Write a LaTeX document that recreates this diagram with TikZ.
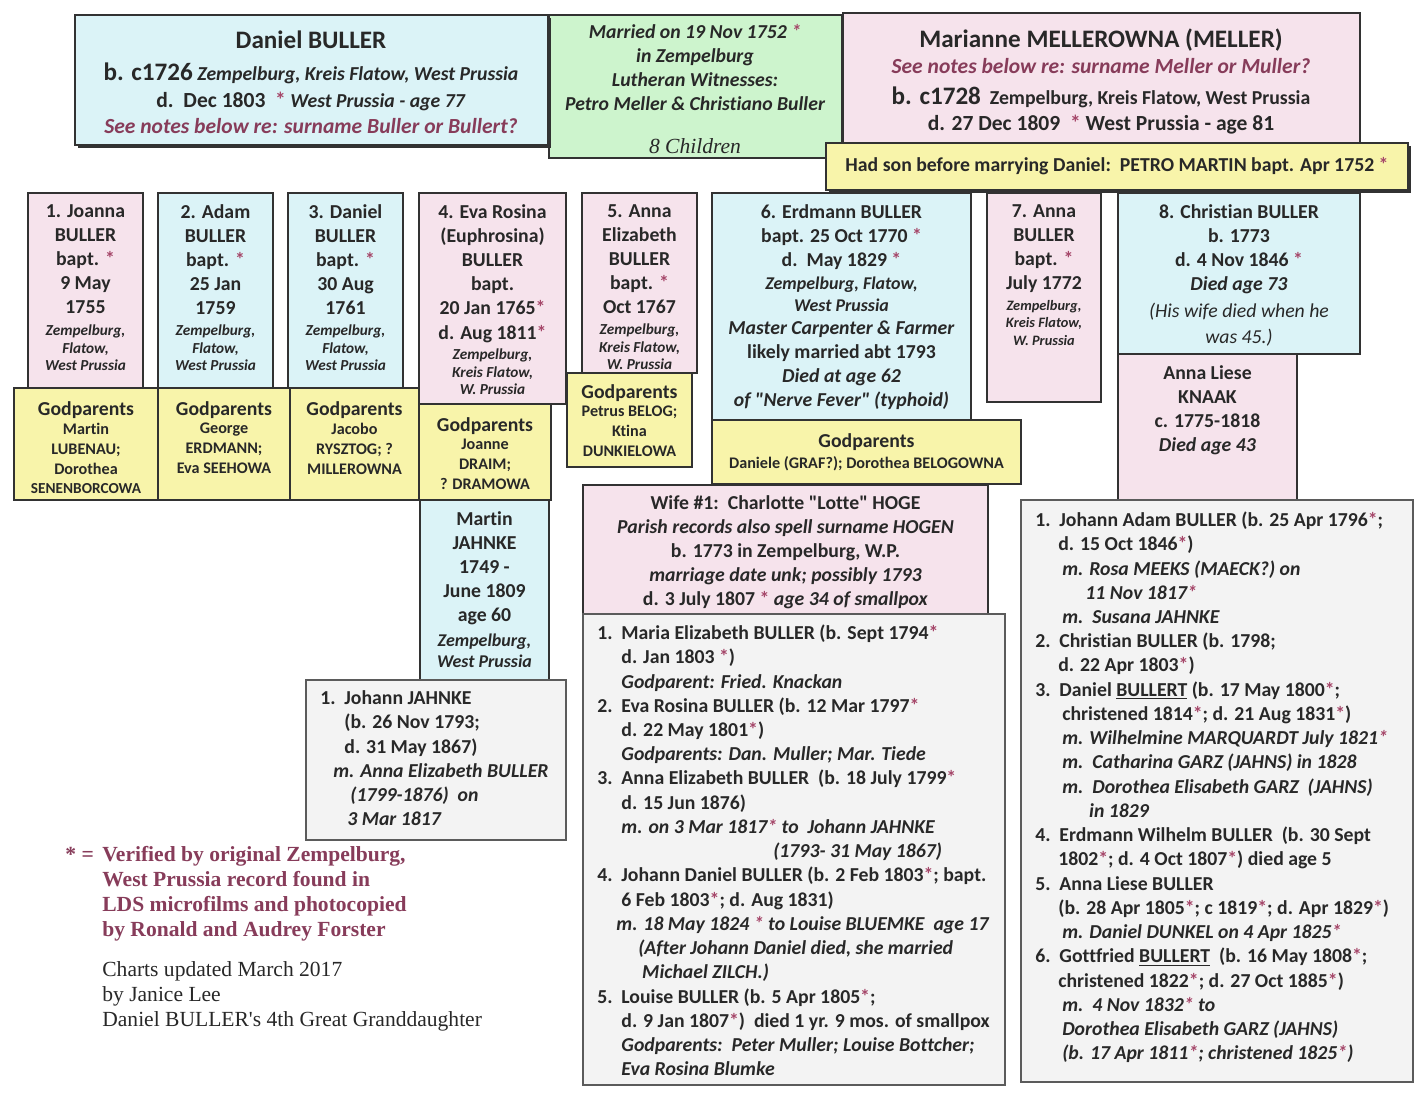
\documentclass[tikz,border=0pt]{standalone}
\usepackage{fontspec}
\setmainfont{Carlito}[Ligatures={TeXOff,NoCommon}]
\newfontfamily\tnr{Liberation Serif}[Ligatures={TeXOff,NoCommon}]
\usetikzlibrary{shadows}

\definecolor{blueF}{RGB}{219,243,247}
\definecolor{pinkF}{RGB}{246,227,236}
\definecolor{greenF}{RGB}{205,244,205}
\definecolor{yellowF}{RGB}{248,244,170}
\definecolor{grayF}{RGB}{243,243,243}
\definecolor{linec}{RGB}{50,50,50}
\definecolor{textc}{RGB}{40,40,40}
\definecolor{notec}{RGB}{135,60,90}
\definecolor{starc}{RGB}{165,70,105}

\newcommand\st{\textcolor{starc}{*}}
\newcommand\fsz[2]{\fontsize{#1}{#2}\selectfont}
\newcommand\nm[1]{\makebox[13.4pt][l]{#1}}
\newcommand\ind{\hspace*{13.4pt}}

\begin{document}
\begin{tikzpicture}[x=0.557pt, y=-0.557pt,
  box/.style={draw=linec, line width=1pt},
  bluebox/.style={box, fill=blueF},
  pinkbox/.style={box, fill=pinkF},
  greenbox/.style={box, fill=greenF, line width=0.6pt},
  yellowbox/.style={box, fill=yellowF},
  graybox/.style={box, fill=grayF, draw=linec!80, line width=0.8pt},
  heavy/.style={line width=1.6pt, drop shadow={shadow xshift=1.4pt, shadow yshift=-1.4pt, opacity=1, fill=linec}},
  txt/.style={inner sep=0pt, align=center, anchor=north, text=textc, font={\bfseries\fsz{11}{13.4}}},
  place/.style={txt, font={\bfseries\itshape\fsz{8.5}{9.75}}},
  gnames/.style={txt, font={\bfseries\fsz{9}{11}}},
  list/.style={inner sep=0pt, align=left, anchor=north west, text=textc, font={\bfseries\fsz{11}{13.5}}}
]
  \useasboundingbox (0,0) rectangle (1423,1092);
  \fill[white] (0,0) rectangle (1423,1092);

  % Rodice
  \draw[greenbox] (549,15) rectangle (842,158);
  \draw[bluebox, heavy] (75,15) rectangle (548,145);
  \draw[pinkbox] (843,13) rectangle (1360,143);
  \node[txt, anchor=base, font={\bfseries\fsz{14}{17}}] (dan) at (311,48) {Daniel BULLER};
  \node[txt, anchor=base] (danb) at (311,80) {{\fsz{14}{17}b. c1726} \textit{Zempelburg, Kreis Flatow, West Prussia}};
  \node[txt, anchor=base] (dand) at (311,107) {{\fsz{12}{14}d.~~Dec 1803~~\st} \textit{West Prussia - age 77}};
  \node[txt, anchor=base, font={\bfseries\itshape\fsz{12}{14}}, text=notec] (dann) at (311,133) {See notes below re: surname Buller or Bullert?};
  \node[txt, font={\bfseries\itshape\fsz{11}{13.4}}] (marr) at (695,24) {Married on 19 Nov 1752 \st\\ in Zempelburg\\ Lutheran Witnesses:\\ Petro Meller \& Christiano Buller};
  \node[txt, anchor=base, font={\tnr\itshape\fsz{12}{14}}] (kids) at (695,153) {8 Children};
  \node[txt, anchor=base, font={\bfseries\fsz{14}{17}}] (mar) at (1101,47) {Marianne MELLEROWNA (MELLER)};
  \node[txt, anchor=base, font={\bfseries\itshape\fsz{12}{14}}, text=notec] (marn) at (1101,73) {See notes below re: surname Meller or Muller?};
  \node[txt, anchor=base] (marb) at (1101,104) {{\fsz{14}{17}b. c1728}~~Zempelburg, Kreis Flatow, West Prussia};
  \node[txt, anchor=base, font={\bfseries\fsz{12}{14}}] (mard) at (1101,130) {d. 27 Dec 1809~~\st{} West Prussia - age 81};
  \draw[yellowbox, heavy] (826,143) rectangle (1408,190);
  \node[txt, anchor=base] (son) at (1117,171) {Had son before marrying Daniel:~~PETRO MARTIN bapt. Apr 1752 \st};

  % Deti
  \draw[pinkbox] (28,193) rectangle (143,388);
  \node[txt] (c1) at (85.5,204.5) {1. Joanna\\ BULLER\\ bapt. \st\\ 9 May\\ 1755};
  \node[place] (c1p) at (85.5,324.5) {Zempelburg,\\ Flatow,\\ West Prussia};
  \draw[bluebox] (158,193) rectangle (273,388);
  \node[txt] (c2) at (215.5,204.5) {2. Adam\\ BULLER\\ bapt. \st\\ 25 Jan\\ 1759};
  \node[place] (c2p) at (215.5,324.5) {Zempelburg,\\ Flatow,\\ West Prussia};
  \draw[bluebox] (288,193) rectangle (403,388);
  \node[txt] (c3) at (345.5,204.5) {3. Daniel\\ BULLER\\ bapt. \st\\ 30 Aug\\ 1761};
  \node[place] (c3p) at (345.5,324.5) {Zempelburg,\\ Flatow,\\ West Prussia};
  \draw[pinkbox] (419,193) rectangle (566,404);
  \node[txt] (c4) at (492.5,204.5) {4. Eva Rosina\\ (Euphrosina)\\ BULLER\\ bapt.\\ 20 Jan 1765\st\\ d. Aug 1811\st};
  \node[place] (c4p) at (492.5,348.5) {Zempelburg,\\ Kreis Flatow,\\ W. Prussia};
  \draw[pinkbox] (582,193) rectangle (697,373);
  \node[txt] (c5) at (639.5,204.5) {5. Anna\\ Elizabeth\\ BULLER\\ bapt. \st\\ Oct 1767};
  \node[place] (c5p) at (639.5,323.5) {Zempelburg,\\ Kreis Flatow,\\ W. Prussia};
  \draw[bluebox] (712,193) rectangle (971,420);
  \node[txt] (c6) at (841.5,204.5) {6. Erdmann BULLER\\ bapt. 25 Oct 1770 \st\\ d.~~May 1829 \st};
  \node[txt, font={\bfseries\itshape\fsz{10}{12.3}}] (c6p) at (841.5,276.5) {Zempelburg, Flatow,\\ West Prussia};
  \node[txt] (c6n) at (841.5,320.5) {\textit{Master Carpenter \& Farmer}\\ likely married abt 1793\\ \textit{Died at age 62}\\ \textit{of "Nerve Fever" (typhoid)}};
  \draw[pinkbox] (987,193) rectangle (1101,402);
  \node[txt] (c7) at (1044,204.5) {7. Anna\\ BULLER\\ bapt. \st\\ July 1772};
  \node[place, font={\bfseries\itshape\fsz{8}{9.75}}] (c7p) at (1044,300) {Zempelburg,\\ Kreis Flatow,\\ W. Prussia};
  \draw[bluebox] (1118,193) rectangle (1360,354);
  \node[txt] (c8) at (1239,204.5) {8. Christian BULLER\\ b. 1773\\ d. 4 Nov 1846 \st\\ \textit{Died age 73}};
  \node[txt, font={\itshape\fsz{11}{14.5}}] (c8w) at (1239,302.5) {(His wife died when he\\ was 45.)};
  \draw[pinkbox] (1118,354) rectangle (1297,500);
  \node[txt] (knaak) at (1207.5,365.5) {Anna Liese\\ KNAAK\\ c. 1775-1818\\ \textit{Died age 43}};

  % Kmotri
  \draw[yellowbox] (14,388) rectangle (158,500);
  \node[txt, anchor=base] (g1) at (86,415) {Godparents};
  \node[gnames] (g1n) at (86,423) {Martin\\ LUBENAU;\\ Dorothea\\ {\fsz{8.5}{11}SENENBORCOWA}};
  \draw[yellowbox] (158,388) rectangle (290,500);
  \node[txt, anchor=base] (g2) at (224,415) {Godparents};
  \node[gnames] (g2n) at (224,423) {George\\ ERDMANN;\\ Eva SEEHOWA};
  \draw[yellowbox] (290,388) rectangle (419,500);
  \node[txt, anchor=base] (g3) at (354.5,415) {Godparents};
  \node[gnames] (g3n) at (354.5,423) {Jacobo\\ RYSZTOG; ?\\ MILLEROWNA};
  \draw[yellowbox] (419,404) rectangle (551,500);
  \node[txt, anchor=base] (g4) at (485,431) {Godparents};
  \node[gnames] (g4n) at (485,439) {Joanne\\ DRAIM;\\ ? DRAMOWA};
  \draw[yellowbox] (567,373) rectangle (692,467);
  \node[txt, anchor=base] (g5) at (629.5,398) {Godparents};
  \node[gnames] (g5n) at (629.5,406) {Petrus BELOG;\\ Ktina\\ DUNKIELOWA};
  \draw[yellowbox] (712,420) rectangle (1021,484);
  \node[txt, anchor=base] (g6) at (866.5,447) {Godparents};
  \node[gnames, anchor=base] (g6n) at (866.5,468) {Daniele (GRAF?); Dorothea BELOGOWNA};

  % Eva Rosina -- Martin JAHNKE
  \draw[bluebox] (420,500) rectangle (549,680);
  \node[txt] (mj) at (484.5,511.5) {Martin\\ JAHNKE\\ 1749 -\\ June 1809\\ age 60};
  \node[txt, font={\bfseries\itshape\fsz{10}{11.8}}] (mjp) at (484.5,633.5) {Zempelburg,\\ West Prussia};
  \draw[graybox] (306,680) rectangle (566,840);
  \node[list] (jj) at (320,690.5) {\nm{1.}Johann JAHNKE\\ \ind(b. 26 Nov 1793;\\ \ind d. 31 May 1867)\\ \hspace*{7.2pt}\textit{m. Anna Elizabeth BULLER}\\ \hspace*{16.7pt}\textit{(1799-1876)~~on}\\ \hspace*{15pt}\textit{3 Mar 1817}};

  % Erdmann -- manzelka a deti
  \draw[pinkbox] (583,485) rectangle (988,614);
  \node[txt] (wife) at (785.5,495.5) {Wife \#1:~~Charlotte "Lotte" HOGE\\ \textit{Parish records also spell surname HOGEN}\\ b. 1773 in Zempelburg, W.P.\\ \textit{marriage date unk; possibly 1793}\\ d. 3 July 1807 \st{} \textit{age 34 of smallpox}};
  \draw[graybox] (583,614) rectangle (1005,1085);
  \node[list] (wk) at (597,624.5) {\nm{1.}Maria Elizabeth BULLER (b. Sept 1794\st\\
    \ind d. Jan 1803 \st)\\
    \ind\textit{Godparent: Fried. Knackan}\\
    \nm{2.}Eva Rosina BULLER (b. 12 Mar 1797\st\\
    \ind d. 22 May 1801\st)\\
    \ind\textit{Godparents: Dan. Muller; Mar. Tiede}\\
    \nm{3.}Anna Elizabeth BULLER~~(b. 18 July 1799\st\\
    \ind d. 15 Jun 1876)\\
    \ind\textit{m. on 3 Mar 1817\st{} to~~Johann JAHNKE}\\
    \hspace*{98pt}\textit{(1793- 31 May 1867)}\\
    \nm{4.}Johann Daniel BULLER (b. 2 Feb 1803\st; bapt.\\
    \ind 6 Feb 1803\st; d. Aug 1831)\\
    \hspace*{10.6pt}\textit{m. 18 May 1824 \st{} to Louise BLUEMKE~~age 17}\\
    \hspace*{22.8pt}\textit{(After Johann Daniel died, she married}\\
    \hspace*{25pt}\textit{Michael ZILCH.)}\\
    \nm{5.}Louise BULLER (b. 5 Apr 1805\st;\\
    \ind d. 9 Jan 1807\st)~~died 1 yr. 9 mos. of smallpox\\
    \ind\textit{Godparents:~~Peter Muller; Louise Bottcher;}\\
    \ind\textit{Eva Rosina Blumke}};

  % Christian -- deti
  \draw[graybox] (1021,500) rectangle (1413,1082);
  \node[list] (ck) at (1035,511.5) {\nm{1.}Johann Adam BULLER (b. 25 Apr 1796\st;\\
    \hspace*{12.8pt}d. 15 Oct 1846\st)\\
    \hspace*{15pt}\textit{m. Rosa MEEKS (MAECK?) on}\\
    \hspace*{27.9pt}\textit{11 Nov 1817\st}\\
    \hspace*{15pt}\textit{m.~~Susana JAHNKE}\\
    \nm{2.}Christian BULLER (b. 1798;\\
    \hspace*{12.8pt}d. 22 Apr 1803\st)\\
    \nm{3.}Daniel \underline{BULLERT} (b. 17 May 1800\st;\\
    \hspace*{15pt}christened 1814\st; d. 21 Aug 1831\st)\\
    \hspace*{15pt}\textit{m. Wilhelmine MARQUARDT July 1821\st}\\
    \hspace*{15pt}\textit{m.~~Catharina GARZ (JAHNS) in 1828}\\
    \hspace*{15pt}\textit{m.~~Dorothea Elisabeth GARZ~~(JAHNS)}\\
    \hspace*{30pt}\textit{in 1829}\\
    \nm{4.}Erdmann Wilhelm BULLER~~(b. 30 Sept\\
    \hspace*{12.8pt}1802\st; d. 4 Oct 1807\st) died age 5\\
    \nm{5.}Anna Liese BULLER\\
    \hspace*{12.8pt}(b. 28 Apr 1805\st; c 1819\st; d. Apr 1829\st)\\
    \hspace*{15pt}\textit{m. Daniel DUNKEL on 4 Apr 1825\st}\\
    \nm{6.}Gottfried \underline{BULLERT}~~(b. 16 May 1808\st;\\
    \hspace*{12.8pt}christened 1822\st; d. 27 Oct 1885\st)\\
    \hspace*{15pt}\textit{m.~~4 Nov 1832\st{} to}\\
    \hspace*{15pt}\textit{Dorothea Elisabeth GARZ (JAHNS)}\\
    \hspace*{15pt}\textit{(b. 17 Apr 1811\st; christened 1825\st)}};

  % Poznamky
  \node[inner sep=0pt, anchor=north west, align=left, text=notec, font={\tnr\bfseries\fsz{12}{13.9}}] (note) at (65,846) {\makebox[20.6pt][l]{*~=}Verified by original Zempelburg,\\ \hspace*{20.6pt}West Prussia record found in\\ \hspace*{20.6pt}LDS microfilms and photocopied\\ \hspace*{20.6pt}by Ronald and Audrey Forster};
  \node[inner sep=0pt, anchor=north west, align=left, text=textc, font={\tnr\fsz{12}{13.9}}] (credit) at (102,961) {Charts updated March 2017\\ by Janice Lee\\ Daniel BULLER's 4th Great Granddaughter};
\end{tikzpicture}
\end{document}
